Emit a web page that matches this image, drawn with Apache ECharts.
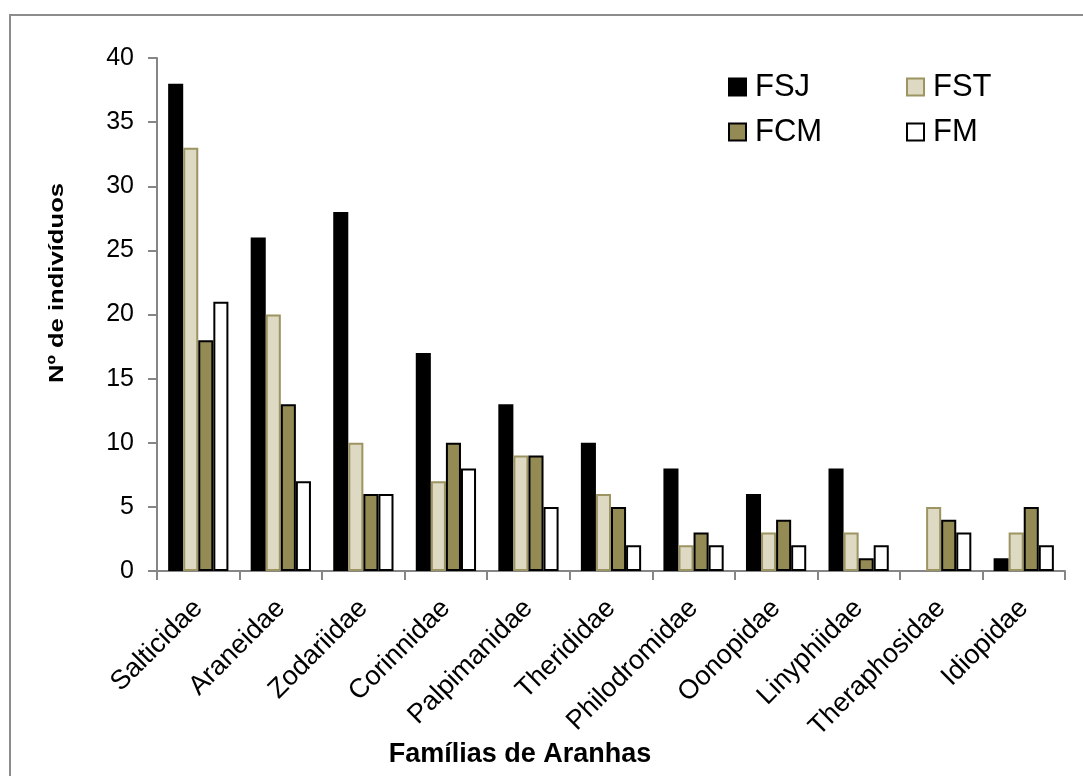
<!DOCTYPE html>
<html>
<head>
<meta charset="utf-8">
<script src="https://cdn.jsdelivr.net/npm/echarts@6/dist/echarts.min.js"></script>
<style>
  html, body { margin: 0; padding: 0; background: #fff; }
  #chart { width: 1083px; height: 776px; }
</style>
</head>
<body>
<div id="chart"></div>
<script>
// Spider families and individual counts per forest site
const families = ['Salticidae', 'Araneidae', 'Zodariidae', 'Corinnidae', 'Palpimanidae',
  'Therididae', 'Philodromidae', 'Oonopidae', 'Linyphiidae', 'Theraphosidae', 'Idiopidae'];
const fsj = [38, 26, 28, 17, 13, 10, 8, 6, 8, 0, 1];
const fst = [33, 20, 10, 7, 9, 6, 2, 3, 3, 5, 3];
const fcm = [18, 13, 6, 10, 9, 5, 3, 4, 1, 4, 5];
const fm  = [21, 7, 6, 8, 5, 2, 2, 2, 2, 3, 2];
const yTicks = [0, 5, 10, 15, 20, 25, 30, 35, 40];

const font = '"Liberation Sans", Arial, sans-serif';
const axisGrey = '#868686';

function bar(name, values, fill, border) {
  // zero counts get no outline so nothing is drawn on the axis
  const data = values.map(v => v === 0 ? { value: 0, itemStyle: { borderWidth: 0 } } : v);
  return {
    name, type: 'bar', data,
    barGap: '0%', barCategoryGap: '27%',
    itemStyle: { color: fill, borderColor: border, borderWidth: 2 },
    emphasis: { disabled: true }
  };
}

const chart = echarts.init(document.getElementById('chart'), null, { renderer: 'canvas' });
const legendBase = {
  icon: 'rect', itemWidth: 17, itemHeight: 17, itemGap: 0, padding: 0,
  textStyle: { fontFamily: font, fontSize: 31, lineHeight: 34, color: '#000', padding: [0, 0, 0, 4] },
  selectedMode: false
};
chart.setOption({
  animation: false,
  grid: { left: 157, right: 18, top: 58, bottom: 205, containLabel: false },
  xAxis: {
    type: 'category', data: families,
    axisLine: { lineStyle: { color: axisGrey, width: 2 } },
    axisTick: { show: true, length: 9, lineStyle: { color: axisGrey, width: 2 } },
    axisLabel: { rotate: 45, interval: 0, margin: 33, fontFamily: font, fontSize: 27, color: '#000' }
  },
  yAxis: {
    type: 'value', min: yTicks[0], max: yTicks[yTicks.length - 1], interval: 5,
    splitLine: { show: false },
    axisLine: { show: true, lineStyle: { color: axisGrey, width: 2 } },
    axisTick: { show: true, length: 9, lineStyle: { color: axisGrey, width: 2 } },
    axisLabel: { margin: 23, fontFamily: font, fontSize: 25, color: '#000' }
  },
  legend: [
    Object.assign({ data: ['FSJ'], left: 728, top: 70 }, legendBase),
    Object.assign({ data: ['FST'], left: 906, top: 70 }, legendBase),
    Object.assign({ data: ['FCM'], left: 728, top: 115 }, legendBase),
    Object.assign({ data: ['FM'],  left: 906, top: 115 }, legendBase)
  ],
  series: [
    bar('FSJ', fsj, '#000000', '#000000'),
    bar('FST', fst, '#DDD9C3', '#9C9461'),
    bar('FCM', fcm, '#948A54', '#000000'),
    bar('FM',  fm,  '#FFFFFF', '#000000')
  ],
  graphic: [
    {
      type: 'rect', silent: true, z: -1,
      shape: { x: 10, y: 15, width: 1200, height: 900 },
      style: { fill: 'none', stroke: '#8c8c8c', lineWidth: 2 }
    },
    {
      type: 'text', x: 57, y: 283, rotation: Math.PI / 2, scaleX: 1.22,
      style: { text: 'Nº de indivíduos', font: 'bold 21px ' + font, fill: '#000',
        textAlign: 'center', textVerticalAlign: 'middle' }
    },
    {
      type: 'text', x: 520, y: 755,
      style: { text: 'Famílias de Aranhas', font: 'bold 27px ' + font, fill: '#000',
        textAlign: 'center', textVerticalAlign: 'middle' }
    }
  ]
});
</script>
</body>
</html>
